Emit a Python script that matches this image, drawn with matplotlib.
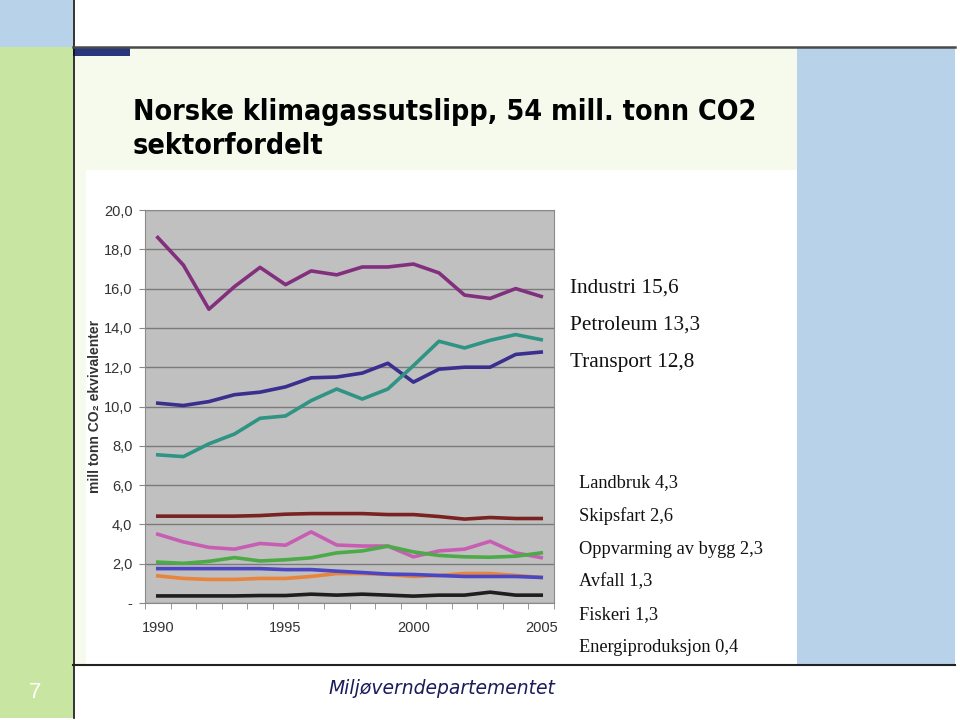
import matplotlib.pyplot as plt
from matplotlib.patches import Rectangle
from matplotlib.lines import Line2D

# Data (mill tonn CO2-ekvivalenter)
years = list(range(1990, 2006))
industri = [18.6, 17.2, 14.95, 16.1, 17.08, 16.2, 16.9, 16.7, 17.1, 17.1, 17.25, 16.8, 15.67, 15.5, 16.0, 15.6]
transport = [10.17, 10.05, 10.25, 10.6, 10.73, 11.0, 11.46, 11.5, 11.7, 12.2, 11.24, 11.9, 12.0, 12.0, 12.65, 12.77]
petroleum = [7.54, 7.45, 8.1, 8.6, 9.4, 9.52, 10.3, 10.89, 10.38, 10.89, 12.08, 13.32, 12.98, 13.37, 13.66, 13.4]
landbruk = [4.42, 4.42, 4.42, 4.42, 4.45, 4.52, 4.55, 4.55, 4.55, 4.5, 4.5, 4.4, 4.27, 4.35, 4.3, 4.3]
oppvarming = [3.5, 3.11, 2.83, 2.74, 3.03, 2.94, 3.62, 2.95, 2.9, 2.9, 2.35, 2.65, 2.74, 3.14, 2.55, 2.31]
skipsfart = [2.08, 2.02, 2.12, 2.31, 2.14, 2.2, 2.3, 2.55, 2.65, 2.89, 2.6, 2.42, 2.35, 2.33, 2.38, 2.55]
fiskeri = [1.75, 1.75, 1.75, 1.75, 1.75, 1.7, 1.7, 1.62, 1.55, 1.47, 1.45, 1.4, 1.35, 1.35, 1.35, 1.3]
avfall = [1.38, 1.25, 1.2, 1.2, 1.25, 1.25, 1.35, 1.5, 1.5, 1.45, 1.35, 1.4, 1.5, 1.5, 1.4, 1.3]
energi = [0.36, 0.36, 0.36, 0.36, 0.38, 0.38, 0.45, 0.4, 0.45, 0.4, 0.35, 0.4, 0.4, 0.55, 0.4, 0.4]

series = [
    (industri, '#82307e'),
    (transport, '#3a2e8e'),
    (petroleum, '#2f9484'),
    (landbruk, '#7a2222'),
    (oppvarming, '#c85eb4'),
    (skipsfart, '#4caa48'),
    (avfall, '#e8843c'),
    (fiskeri, '#4a46c4'),
    (energi, '#1e1e1e'),
]

store = ['Industri 15,6', 'Petroleum 13,3', 'Transport 12,8']
sma = ['Landbruk 4,3', 'Skipsfart 2,6', 'Oppvarming av bygg 2,3', 'Avfall 1,3', 'Fiskeri 1,3', 'Energiproduksjon 0,4']

W, H = 960, 720
fig = plt.figure(figsize=(9.6, 7.2), dpi=100)


def rect(x0, y0, x1, y1, color):
    fig.add_artist(Rectangle((x0 / W, 1 - y1 / H), (x1 - x0) / W, (y1 - y0) / H,
                             transform=fig.transFigure, facecolor=color, edgecolor='none', zorder=0))


def line(x0, y0, x1, y1, color, lw):
    fig.add_artist(Line2D([x0 / W, x1 / W], [1 - y0 / H, 1 - y1 / H],
                          transform=fig.transFigure, color=color, lw=lw, zorder=1))


# Lysbilde-ramme
rect(0, 0, 73, 47, '#b8d2ea')
rect(0, 47, 73, 718, '#c8e6a2')
rect(73, 47, 797, 665, '#f5faec')
rect(797, 47, 955, 665, '#b8d2ea')
rect(86, 170, 797, 665, '#ffffff')
rect(73, 47, 130, 56, '#28367e')
line(73.5, 0, 73.5, 718, '#111111', 1.2)
line(73, 47, 955, 47, '#4a4a4a', 1.8)
line(73, 665, 955, 665, '#222222', 1.5)

fig.text(133 / W, 1 - 129 / H, 'Norske klimagassutslipp, 54 mill. tonn CO2\nsektorfordelt',
         fontsize=20.5, fontfamily='DejaVu Sans', fontstretch='condensed', fontweight='bold',
         va='center', ha='left', linespacing=1.28, color='#000000')

fig.text(35 / W, 1 - 692 / H, '7', fontsize=16, color='white', ha='center', va='center', family='Liberation Sans')
fig.text(442 / W, 1 - 689 / H, 'Miljøverndepartementet', fontsize=13.5, style='italic', color='#1c1c5c',
         ha='center', va='center', family='DejaVu Sans')

# Diagrammet
ax = fig.add_axes([145 / W, 1 - 603 / H, (554 - 145) / W, (603 - 210) / H])
ax.set_facecolor('#c0c0c0')
x = list(range(len(years)))
for vals, col in series:
    ax.plot(x, vals, color=col, lw=2.6, solid_joinstyle='round')

ax.set_xlim(-0.5, len(years) - 0.5)
ax.set_ylim(0, 20)
ax.set_yticks(range(0, 21, 2))
ax.set_yticklabels(['-'] + [f'{v},0' for v in range(2, 21, 2)])
ax.set_xticks([0, 5, 10, 15])
ax.set_xticklabels([str(years[i]) for i in [0, 5, 10, 15]])
ax.set_xticks([i - 0.5 for i in range(len(years) + 1)], minor=True)
ax.tick_params(axis='x', which='major', length=0, pad=13, labelsize=10.5, labelcolor='#333333')
ax.tick_params(axis='x', which='minor', length=4, color='#888888')
ax.tick_params(axis='y', length=4, color='#888888', labelsize=10.5, labelcolor='#333333', pad=5)
for lab in ax.get_xticklabels() + ax.get_yticklabels():
    lab.set_family('Liberation Sans')
ax.grid(axis='y', color='#7a7a7a', lw=1)
ax.set_axisbelow(True)
for s in ax.spines.values():
    s.set_color('#8a8a8a')
ax.set_ylabel('mill tonn CO₂ ekvivalenter', fontsize=10, fontweight='bold', color='#333333',
              family=['Liberation Sans', 'DejaVu Sans'], labelpad=1.5)

# Tekst til høyre
for i, t in enumerate(store):
    fig.text(570 / W, 1 - (288 + i * 37.5) / H, t, fontsize=15.3, family='Liberation Serif',
             va='center', ha='left', color='#111111')
for i, t in enumerate(sma):
    fig.text(579 / W, 1 - (483 + i * 33) / H, t, fontsize=13.2, family='Liberation Serif',
             va='center', ha='left', color='#111111')

fig.savefig('out.png', dpi=100)
